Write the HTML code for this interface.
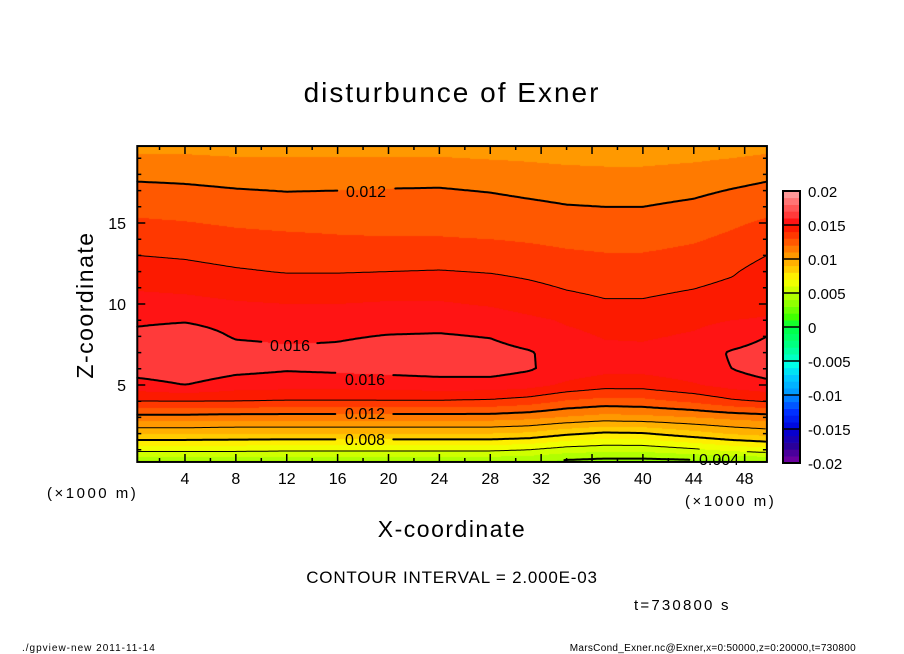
<!DOCTYPE html>
<html><head><meta charset="utf-8"><style>
html,body{margin:0;padding:0;background:#fff;}
#wrap{position:relative;width:904px;height:654px;overflow:hidden;font-family:"Liberation Sans",sans-serif;}
svg text{font-family:"Liberation Sans",sans-serif;}
canvas{position:absolute;left:0;top:0;}
svg{position:absolute;left:0;top:0;}
</style></head><body>
<div id="wrap">
<canvas id="fill" width="904" height="654"></canvas>
<svg id="svg" width="904" height="654" viewBox="0 0 904 654">
<text x="452" y="102" font-size="28" letter-spacing="2" text-anchor="middle">disturbunce of Exner</text>
<text x="0" y="0" font-size="23" letter-spacing="1.5" text-anchor="middle" transform="translate(93,305) rotate(-90)">Z-coordinate</text>
<text x="452" y="537" font-size="23" letter-spacing="1.5" text-anchor="middle">X-coordinate</text>
<text x="47" y="498" font-size="15" letter-spacing="2.5">(×1000 m)</text>
<text x="685" y="506" font-size="15" letter-spacing="2.5">(×1000 m)</text>
<text x="452" y="583" font-size="17" letter-spacing="0.8" text-anchor="middle">CONTOUR INTERVAL = 2.000E-03</text>
<text x="634" y="610" font-size="15" letter-spacing="2.2">t=730800 s</text>
<text x="22" y="651" font-size="10" letter-spacing="1">./gpview-new  2011-11-14</text>
<text x="856" y="651" font-size="10" letter-spacing="0.3" text-anchor="end">MarsCond_Exner.nc@Exner,x=0:50000,z=0:20000,t=730800</text>
<g id="lines"></g>
<g id="axes"></g>
<g id="cbar"></g>
</svg>
</div>
<script>
// ---- data ----
const xCoords = [0.25,4,8,12,16,20,24,28,31,34,37,40,44,47,49.75];
const zCoords = [0.25,1,2,3,4,5,6,7,8,9,10,12,14,16,18,19.75];
const r0  = [4.1,4.1,4.1,4.1,4.1,4.1,4.1,4.1,4.0,3.7,3.5,3.5,3.6,3.7,3.8];
const r1  = [6.3,6.3,6.3,6.2,6.2,6.2,6.2,6.2,6.0,5.5,5.3,5.3,5.8,6.3,6.6];
const r2  = [9.1,9.1,9.0,9.0,9.0,9.0,9.0,9.0,8.8,8.2,7.8,7.9,8.6,9.1,9.4];
const r3  = [11.6,11.6,11.5,11.5,11.5,11.5,11.5,11.5,11.3,10.9,10.6,10.7,11.0,11.3,11.5];
const r4  = [14.0,14.0,14.0,13.9,13.9,13.9,13.9,13.8,13.5,12.9,12.6,12.7,13.2,13.8,14.1];
const r5  = [15.6,16.0,15.5,15.4,15.4,15.5,15.6,15.6,15.4,14.8,14.4,14.4,14.9,15.4,15.7];
const r6  = [16.5,16.7,16.3,16.1,16.2,16.3,16.4,16.4,16.1,15.6,15.3,15.3,15.6,16.0,16.5];
const r7  = [16.8,17.0,16.4,16.2,16.2,16.4,16.5,16.4,16.1,15.5,15.2,15.2,15.5,16.1,16.4];
const r8  = [16.3,16.6,15.9,15.8,15.9,16.05,16.1,15.95,15.5,15.2,14.95,14.9,15.1,15.5,16.0];
const r9  = [15.8,15.9,15.6,15.5,15.5,15.6,15.6,15.5,15.2,14.9,14.7,14.7,14.8,15.0,15.1];
const r10 = [15.4,15.3,15.1,15.0,15.0,15.1,15.1,14.9,14.6,14.3,14.1,14.1,14.3,14.5,14.7];
const r12 = [14.4,14.3,14.1,13.95,13.95,14.0,14.05,13.95,13.8,13.6,13.5,13.5,13.65,13.9,14.4];
const r14 = [13.6,13.5,13.3,13.2,13.1,13.05,13.05,13.0,12.9,12.75,12.65,12.65,12.9,13.2,13.6];
const r16 = [12.7,12.6,12.45,12.35,12.4,12.45,12.5,12.35,12.2,12.05,12.0,12.0,12.2,12.5,12.7];
const r18 = [11.8,11.75,11.65,11.6,11.6,11.65,11.65,11.55,11.4,11.3,11.25,11.25,11.4,11.6,11.8];
const r20 = [10.7,10.7,10.6,10.6,10.6,10.6,10.6,10.5,10.5,10.4,10.35,10.35,10.45,10.55,10.7];
const fieldRows = [r0,r1,r2,r3,r4,r5,r6,r7,r8,r9,r10,r12,r14,r16,r18,r20]; // units: 1e-3
const valueScale = 1e-3;
const xTicks = [4,8,12,16,20,24,28,32,36,40,44,48];
const zTicks = [5,10,15];
const cbarLabels = ["0.02","0.015","0.01","0.005","0","-0.005","-0.01","-0.015","-0.02"];
const cbarValues = [0.02,0.015,0.01,0.005,0,-0.005,-0.01,-0.015,-0.02];
const contourLevels = [0.004,0.006,0.008,0.010,0.012,0.014,0.016];

// ---- axes ----
const sx = x => 134.1 + 12.72*x;
const sz = z => 466 - 16.2*z;
const ix = px => (px-134.1)/12.72;
const iz = py => (466-py)/16.2;
const X0=sx(0.25), X1=sx(49.75), Y0=sz(19.75), Y1=sz(0.25);

const cmapV = [-0.02,-0.0175,-0.015,-0.0125,-0.01,-0.0075,-0.0055,-0.004,-0.0025,0,0.0015,0.003,0.005,0.0065,0.0075,0.0085,0.0095,0.0105,0.0115,0.0125,0.0135,0.0145,0.0155,0.0165,0.0175,0.0185,0.0195];
const cmapC = ["7a00a0","2a009a","0000d8","0030ff","0090ff","00c8ff","00ffe8","00ffb0","00ff80","00ff40","40ff00","80ff00","c0ff00","f0ff00","ffee00","ffcc00","ffb000","ff9900","ff7a00","ff5800","ff3800","fc1a00","ff1414","ff3a3a","ff5656","ff7474","ff9898"];
function hex(c){return [parseInt(c.substr(0,2),16),parseInt(c.substr(2,2),16),parseInt(c.substr(4,2),16)];}
function colorFor(v){
  let b=Math.floor((v+0.02)/0.001); b=Math.max(0,Math.min(39,b));
  const c=-0.02+0.001*(b+0.5);
  let i=0; while(i<cmapV.length-2 && cmapV[i+1]<c) i++;
  const t=Math.max(0,Math.min(1,(c-cmapV[i])/(cmapV[i+1]-cmapV[i])));
  const a=hex(cmapC[i]), d=hex(cmapC[i+1]);
  return [0,1,2].map(k=>Math.round(a[k]+(d[k]-a[k])*t));
}
function seg(arr,v){let i=0;while(i<arr.length-2&&arr[i+1]<v)i++;let t=(v-arr[i])/(arr[i+1]-arr[i]);return [i,Math.max(0,Math.min(1,t))];}
function field(x,z){
  const [i,tx]=seg(xCoords,x), [j,tz]=seg(zCoords,z);
  const a=fieldRows[j][i],b=fieldRows[j][i+1],c=fieldRows[j+1][i],d=fieldRows[j+1][i+1];
  return ((a*(1-tx)+b*tx)*(1-tz)+(c*(1-tx)+d*tx)*tz)*valueScale;
}

// ---- fill ----
const ctx=document.getElementById('fill').getContext('2d');
const px0=Math.round(X0),px1=Math.round(X1),py0=Math.round(Y0),py1=Math.round(Y1);
const img=ctx.createImageData(px1-px0,py1-py0);
for(let py=py0;py<py1;py++)for(let px=px0;px<px1;px++){
  const col=colorFor(field(ix(px+0.5),iz(py+0.5)));
  const k=((py-py0)*(px1-px0)+(px-px0))*4;
  img.data[k]=col[0];img.data[k+1]=col[1];img.data[k+2]=col[2];img.data[k+3]=255;
}
ctx.putImageData(img,px0,py0);

// ---- contour lines ----
const NS='http://www.w3.org/2000/svg';
const labelBoxes=[[337,178,395,200],[261,334,318,356],[336,368,394,390],[336,402,394,424],[336,428,394,450],[690,449,748,468]];
const lineG=document.getElementById('lines');
const step=2;
const gx=[],gy=[];for(let p=X0;p<=X1+0.01;p+=step)gx.push(p);for(let p=Y0;p<=Y1+0.01;p+=step)gy.push(p);
const G=gy.map(py=>gx.map(px=>field(ix(px),iz(py))));
function inLabel(x,y){return labelBoxes.some(b=>x>b[0]&&x<b[2]&&y>b[1]&&y<b[3]);}
contourLevels.forEach(L=>{
  let d='';
  for(let j=0;j<gy.length-1;j++)for(let i=0;i<gx.length-1;i++){
    const c=[[gx[i],gy[j],G[j][i]],[gx[i+1],gy[j],G[j][i+1]],[gx[i+1],gy[j+1],G[j+1][i+1]],[gx[i],gy[j+1],G[j+1][i]]];
    const pts=[];
    for(let e=0;e<4;e++){const p=c[e],q=c[(e+1)%4];
      if((p[2]-L)*(q[2]-L)<0){const t=(L-p[2])/(q[2]-p[2]);pts.push([p[0]+(q[0]-p[0])*t,p[1]+(q[1]-p[1])*t]);}}
    for(let k=0;k+1<pts.length;k+=2){
      const mx=(pts[k][0]+pts[k+1][0])/2,my=(pts[k][1]+pts[k+1][1])/2;
      if(inLabel(mx,my))continue;
      d+='M'+pts[k][0].toFixed(1)+' '+pts[k][1].toFixed(1)+'L'+pts[k+1][0].toFixed(1)+' '+pts[k+1][1].toFixed(1);
    }
  }
  const p=document.createElementNS(NS,'path');
  p.setAttribute('d',d);p.setAttribute('fill','none');p.setAttribute('stroke','#000');
  p.setAttribute('stroke-width',(Math.round(L*1000)%4===0)?2:1);p.setAttribute('stroke-linecap','round');
  
  
  lineG.appendChild(p);
});
const clabels=[["0.012",366,197],["0.016",290,351],["0.016",365,385],["0.012",365,419],["0.008",365,445],["0.004",719,465]];
clabels.forEach(l=>{
  const t=document.createElementNS(NS,'text');
  t.setAttribute('x',l[1]);t.setAttribute('y',l[2]);t.setAttribute('font-size','16');t.setAttribute('text-anchor','middle');
  t.textContent=l[0];
  
  
  lineG.appendChild(t);
});

// ---- axes ----
const ax=document.getElementById('axes');
let td='';
for(let x=2;x<=48;x+=2){const p=sx(x),len=(x%4===0)?8:4;td+=`M${p} ${Y1}v${-len}M${p} ${Y0}v${len}`;}
for(let z=1;z<=19;z++){const p=sz(z),len=(z%5===0)?8:4;td+=`M${X0} ${p}h${len}M${X1} ${p}h${-len}`;}
const tk=document.createElementNS(NS,'path');tk.setAttribute('d',td);tk.setAttribute('stroke','#000');tk.setAttribute('stroke-width','1.5');


ax.appendChild(tk);
const fr=document.createElementNS(NS,'rect');
fr.setAttribute('x',X0);fr.setAttribute('y',Y0);fr.setAttribute('width',X1-X0);fr.setAttribute('height',Y1-Y0);
fr.setAttribute('fill','none');fr.setAttribute('stroke','#000');fr.setAttribute('stroke-width','2');


ax.appendChild(fr);
xTicks.forEach(x=>{const t=document.createElementNS(NS,'text');t.setAttribute('x',sx(x));t.setAttribute('y',484);t.setAttribute('font-size','16');t.setAttribute('text-anchor','middle');t.textContent=x;
  
  
  ax.appendChild(t);});
zTicks.forEach(z=>{const t=document.createElementNS(NS,'text');t.setAttribute('x',126);t.setAttribute('y',sz(z)+6);t.setAttribute('font-size','16');t.setAttribute('text-anchor','end');t.textContent=z;
  
  
  ax.appendChild(t);});

// ---- colorbar ----
const cb=document.getElementById('cbar');
const CB={x:783,w:17,top:191,bot:463};
const cy=v=>CB.bot-(v+0.02)/0.04*(CB.bot-CB.top);
for(let b=0;b<40;b++){
  const v=-0.02+0.001*b;const col=colorFor(v+0.0005);
  const r=document.createElementNS(NS,'rect');
  r.setAttribute('x',CB.x);r.setAttribute('y',cy(v+0.001));r.setAttribute('width',CB.w);r.setAttribute('height',cy(v)-cy(v+0.001)+0.3);
  r.setAttribute('fill',`rgb(${col[0]},${col[1]},${col[2]})`);
  
  
  cb.appendChild(r);
}
cbarValues.forEach((v,i)=>{
  const l=document.createElementNS(NS,'line');l.setAttribute('x1',CB.x);l.setAttribute('x2',CB.x+CB.w);l.setAttribute('y1',cy(v));l.setAttribute('y2',cy(v));l.setAttribute('stroke','#000');l.setAttribute('stroke-width','1.5');
  
  
  cb.appendChild(l);
  const t=document.createElementNS(NS,'text');t.setAttribute('x',808);t.setAttribute('y',cy(v)+6);t.setAttribute('font-size','15');t.textContent=cbarLabels[i];
  
  
  cb.appendChild(t);
});
const cbf=document.createElementNS(NS,'rect');cbf.setAttribute('x',CB.x);cbf.setAttribute('y',CB.top);cbf.setAttribute('width',CB.w);cbf.setAttribute('height',CB.bot-CB.top);cbf.setAttribute('fill','none');cbf.setAttribute('stroke','#000');cbf.setAttribute('stroke-width','2');


cb.appendChild(cbf);
</script>
</body></html>
